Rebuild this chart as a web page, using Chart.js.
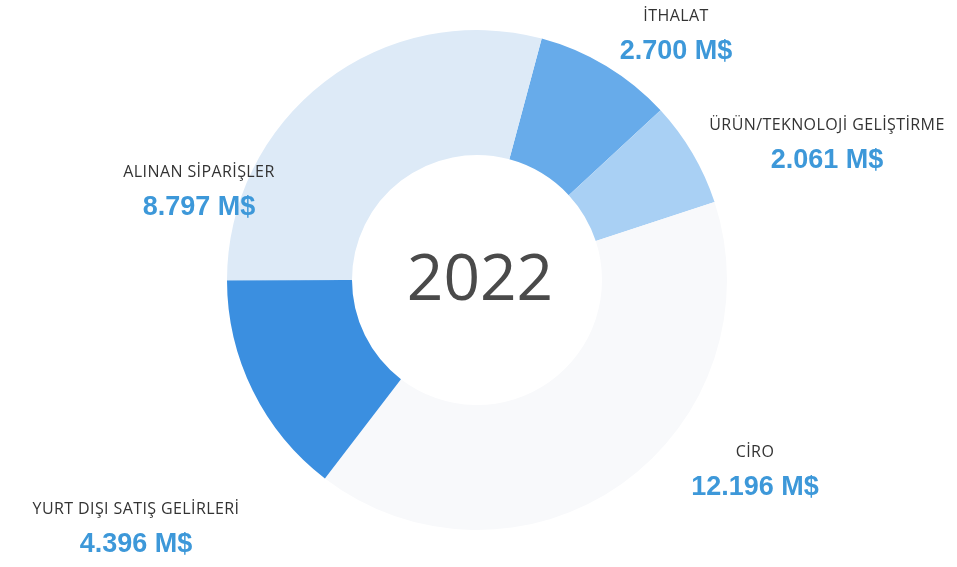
<!DOCTYPE html>
<html>
<head>
<meta charset="utf-8">
<script src="https://cdn.jsdelivr.net/npm/chart.js@4"></script>
<style>
  html, body { margin: 0; padding: 0; background: #ffffff; }
  #wrap { width: 957px; height: 567px; position: relative; }
</style>
</head>
<body>
<div id="wrap"><canvas id="chart" width="957" height="567"></canvas></div>
<script>
// veriler (milyon $)
const categories = ['İTHALAT', 'ÜRÜN/TEKNOLOJİ GELİŞTİRME', 'CİRO', 'YURT DIŞI SATIŞ GELİRLERİ', 'ALINAN SİPARİŞLER'];
const values = [2700, 2061, 12196, 4396, 8797];
const valueLabels = ['2.700 M$', '2.061 M$', '12.196 M$', '4.396 M$', '8.797 M$'];
const centerTitle = '2022';

const sliceColors = ['#67abea', '#a9d0f4', '#f8f9fb', '#3b8fe0', '#ddeaf7'];

// etiket konumlari (grafik merkezine gore)
const labelPos = [
    { dx: 199, dy: -264 },
    { dx: 350, dy: -155 },
    { dx: 278, dy: 172 },
    { dx: -341, dy: 229 },
    { dx: -278, dy: -108 }
];

const labelsPlugin = {
    id: 'sliceLabels',
    afterDraw(chart) {
        const ctx = chart.ctx;
        const arc = chart.getDatasetMeta(0).data[0];
        const cx = arc.x, cy = arc.y;
        ctx.save();
        ctx.textAlign = 'center';
        ctx.textBaseline = 'middle';

        // orta yazi
        ctx.fillStyle = '#4a4a4a';
        ctx.font = '400 64px "Open Sans"';
        ctx.fillText(centerTitle, cx + 3, cy + 2);

        categories.forEach((name, i) => {
            const p = labelPos[i];
            ctx.fillStyle = '#333333';
            ctx.font = '400 16px "Open Sans"';
            ctx.letterSpacing = '0.4px';
            ctx.fillText(name, cx + p.dx, cy + p.dy);
            ctx.letterSpacing = '0px';
            ctx.fillStyle = '#3d98d9';
            ctx.font = 'bold 27px "Liberation Sans"';
            ctx.fillText(valueLabels[i], cx + p.dx, cy + p.dy + 36);
        });
        ctx.restore();
    }
};

new Chart(document.getElementById('chart'), {
    type: 'doughnut',
    data: {
        labels: categories,
        datasets: [{
            data: values,
            backgroundColor: sliceColors,
            borderWidth: 0
        }]
    },
    options: {
        responsive: false,
        animation: false,
        rotation: 15,
        cutout: '50%',
        layout: { padding: { top: 30, bottom: 37, left: 0, right: 3 } },
        plugins: {
            legend: { display: false },
            tooltip: { enabled: false }
        }
    },
    plugins: [labelsPlugin]
});
</script>
</body>
</html>
